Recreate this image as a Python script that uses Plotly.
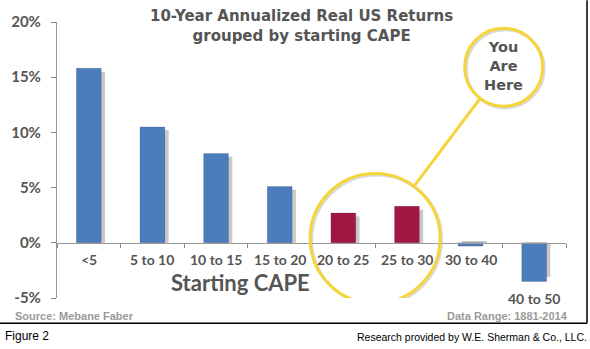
import plotly.graph_objects as go

categories = ["<5", "5 to 10", "10 to 15", "15 to 20", "20 to 25", "25 to 30", "30 to 40", "40 to 50"]
returns = [15.8, 10.5, 8.1, 5.1, 2.7, 3.3, -0.3, -3.5]
highlight = ["20 to 25", "25 to 30"]
y_ticks = [-5, 0, 5, 10, 15, 20]

BLUE = "#4b7dbd"
RED = "#a2173f"
GREY_TXT = "#555555"
FONT = "Lato"
WIDE = "DejaVu Sans"

bar_colors = [RED if c in highlight else BLUE for c in categories]
shadow_vals = [v - 0.3 if v > 0 else v + 0.4 for v in returns]
xi = list(range(len(categories)))

fig = go.Figure()
fig.add_trace(go.Bar(x=xi, y=shadow_vals, width=0.39, offset=-0.135,
                     marker=dict(color="#c9c9c9", line=dict(width=0)),
                     hoverinfo="skip", showlegend=False))
fig.add_trace(go.Bar(x=xi, y=returns, width=0.39, offset=-0.195,
                     marker=dict(color=bar_colors, line=dict(width=1, color="rgba(0,0,0,0.15)")),
                     showlegend=False))

W, H = 590, 349
L, R, T, B = 57, 24, 21.7, 51.3

fig.update_layout(
    width=W, height=H,
    margin=dict(l=L, r=R, t=T, b=B, pad=0),
    paper_bgcolor="white", plot_bgcolor="white",
    barmode="overlay",
    showlegend=False,
    xaxis=dict(range=[-0.5, len(categories) - 0.5], anchor="free", position=0.2,
               showline=True, linecolor="#999999", linewidth=1.2,
               ticks="outside", ticklen=4, tickcolor="#888888",
               tickvals=[i - 0.5 for i in range(len(categories) + 1)],
               showticklabels=False, showgrid=False, zeroline=False, fixedrange=True),
    yaxis=dict(range=[-5, 20], tickvals=y_ticks, ticktext=[f"{t}%" for t in y_ticks],
               showline=True, linecolor="#999999", linewidth=1.2,
               ticks="outside", ticklen=5, tickcolor="#888888",
               ticklabelstandoff=7,
               tickfont=dict(family=FONT, size=15, color=GREY_TXT, weight="bold"),
               showgrid=False, zeroline=False, fixedrange=True),
    font=dict(family=FONT, color=GREY_TXT),
)

# category labels
for i, (c, v) in enumerate(zip(categories, returns)):
    fig.add_annotation(x=i, y=(v if v < -1 else 0), yshift=-17, text=c, showarrow=False,
                       font=dict(family=FONT, size=14, color=GREY_TXT, weight="bold"),
                       xanchor="center", yanchor="middle")

def px_to_paper_x(px):
    return (px - L) / (W - L - R)

def px_to_paper_y(py):
    return (H - B - py) / (H - T - B)

def px_to_data_y(py):
    return (H - B - py) / (H - T - B) * 25 - 5

# title
fig.add_annotation(xref="paper", yref="paper", x=px_to_paper_x(301), y=px_to_paper_y(26),
                   text="10-Year Annualized Real US Returns<br>grouped by starting CAPE", showarrow=False,
                   font=dict(family=WIDE, size=15, color=GREY_TXT, weight="bold"),
                   xanchor="center", yanchor="middle", align="center")

# axis title
fig.add_annotation(xref="paper", yref="paper", x=px_to_paper_x(240), y=px_to_paper_y(282),
                   text="Starting CAPE", showarrow=False,
                   font=dict(family=FONT, size=22, color=GREY_TXT, weight="bold"),
                   xanchor="center", yanchor="middle")

# source lines
fig.add_annotation(xref="paper", yref="paper", x=px_to_paper_x(13), y=px_to_paper_y(316),
                   text="Source: Mebane Faber", showarrow=False,
                   font=dict(family="Liberation Sans", size=11, color="#9a9a9a", weight="bold"),
                   xanchor="left", yanchor="middle")
fig.add_annotation(xref="paper", yref="paper", x=px_to_paper_x(570), y=px_to_paper_y(316),
                   text="Data Range: 1881-2014", showarrow=False,
                   font=dict(family="Liberation Sans", size=11, color="#9a9a9a", weight="bold"),
                   xanchor="right", yanchor="middle")
fig.add_annotation(xref="paper", yref="paper", x=px_to_paper_x(3), y=px_to_paper_y(336),
                   text="Figure 2", showarrow=False,
                   font=dict(family="Liberation Sans", size=12, color="#000000"),
                   xanchor="left", yanchor="middle")
fig.add_annotation(xref="paper", yref="paper", x=px_to_paper_x(589), y=px_to_paper_y(337),
                   text="Research provided by W.E. Sherman &amp; Co., LLC.", showarrow=False,
                   font=dict(family="Liberation Sans", size=10.5, color="#000000"),
                   xanchor="right", yanchor="middle")

# frame lines (right and bottom)
fig.add_shape(type="line", xref="paper", yref="paper",
              x0=px_to_paper_x(587), x1=px_to_paper_x(587), y0=px_to_paper_y(0), y1=px_to_paper_y(323),
              line=dict(color="black", width=1.5))
fig.add_shape(type="line", xref="paper", yref="paper",
              x0=px_to_paper_x(0), x1=px_to_paper_x(587), y0=px_to_paper_y(323), y1=px_to_paper_y(323),
              line=dict(color="black", width=1.5))

YEL = "#f5d53a"
big_cx, big_cy, big_r = 4.5, 0.4, 65
small_cx, small_cy, small_r = 6.52, 15.9, 39
for (cx, cy, r) in [(big_cx, big_cy, big_r), (small_cx, small_cy, small_r)]:
    fig.add_shape(type="circle", xref="x", yref="y", xsizemode="pixel", ysizemode="pixel",
                  xanchor=cx, yanchor=cy, x0=-r + 1.5, x1=r + 1.5, y0=-r - 1.5, y1=r - 1.5,
                  line=dict(color="rgba(150,150,150,0.35)", width=3), layer="above")
    fig.add_shape(type="circle", xref="x", yref="y", xsizemode="pixel", ysizemode="pixel",
                  xanchor=cx, yanchor=cy, x0=-r, x1=r, y0=-r, y1=r,
                  line=dict(color=YEL, width=3), layer="above")

# connector
fig.add_shape(type="line", xref="x", yref="y", x0=6.15, y0=13.07, x1=5.11, y1=5.11,
              line=dict(color=YEL, width=3), layer="above")

fig.add_annotation(x=small_cx, y=px_to_data_y(66), text="You<br>Are<br>Here", showarrow=False,
                   font=dict(family=WIDE, size=14.5, color=GREY_TXT, weight="bold"),
                   xanchor="center", yanchor="middle", align="center")

fig.write_html("out.html")
